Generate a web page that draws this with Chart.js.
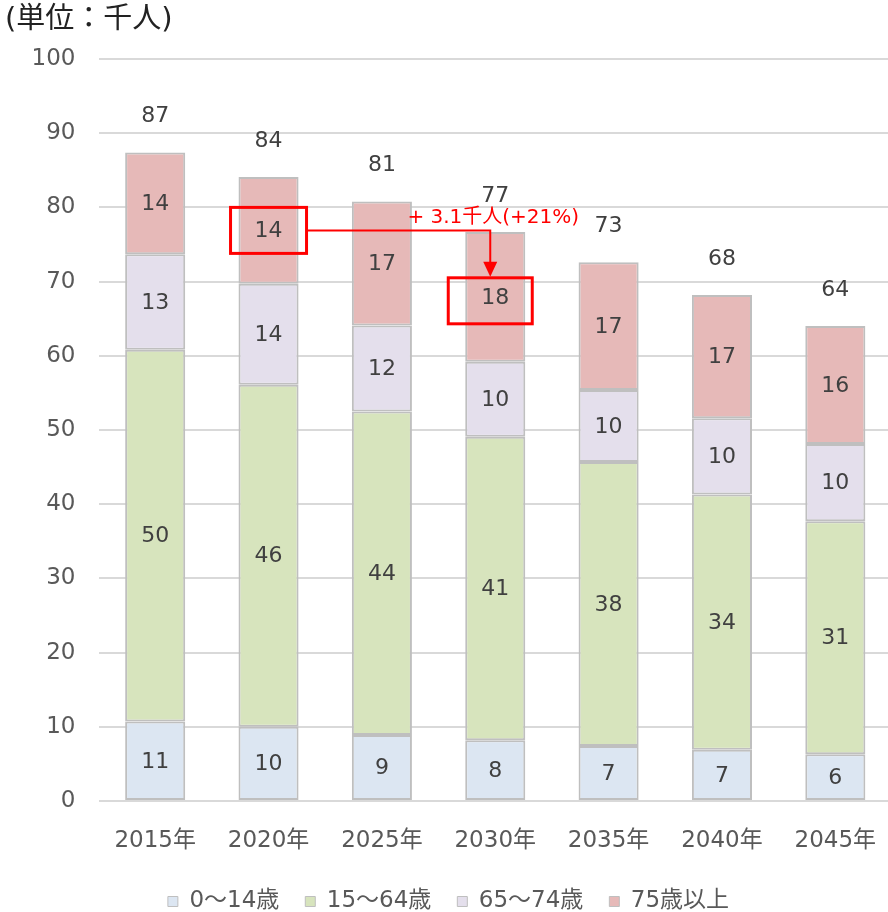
<!DOCTYPE html>
<html>
<head>
<meta charset="utf-8">
<script src="https://cdn.jsdelivr.net/npm/chart.js@4/dist/chart.umd.min.js"></script>
<style>
html,body{margin:0;padding:0;background:#fff;overflow:hidden;}
#wrap{width:892px;height:912px;position:relative;}
</style>
</head>
<body>
<div id="wrap"><canvas id="c"></canvas></div>
<script>
// ---- data ----
const years = ['2015年','2020年','2025年','2030年','2035年','2040年','2045年'];
const age0to14  = [10.7, 10.0, 8.9, 8.2, 7.4, 6.9, 6.3];
const age15to64 = [50.1, 46.1, 43.6, 40.9, 38.3, 34.4, 31.4];
const age65to74 = [12.9, 13.6, 11.6, 10.1, 9.7, 10.3, 10.4];
const age75plus = [13.7, 14.4, 16.7, 17.5, 17.2, 16.6, 15.9];
const seriesNames = ['0～14歳','15～64歳','65～74歳','75歳以上'];
const yMin = 0, yMax = 100, yStep = 10;
const unitLabel = '(単位：千人)';
const annotationText = '+ 3.1千人(+21%)';
const annotationFromIndex = 1;   // 2020
const annotationToIndex = 3;     // 2030

// ---- styles ----
const FONT = "'DejaVu Sans', 'Noto Sans CJK JP', sans-serif";
const fills = ['#DCE6F2', '#D7E4BD', '#E4DFEC', '#E6B9B8'];
const edge = '#BFBFBF';

const seriesData = [age0to14, age15to64, age65to74, age75plus];

const labelPlugin = {
  id: 'segLabels',
  afterDatasetsDraw(chart) {
    const ctx = chart.ctx;
    ctx.save();
    ctx.font = '22px ' + FONT;
    ctx.fillStyle = '#404040';
    ctx.textAlign = 'center';
    ctx.textBaseline = 'middle';
    chart.data.datasets.forEach((ds, di) => {
      const meta = chart.getDatasetMeta(di);
      meta.data.forEach((el, i) => {
        const v = ds.data[i];
        ctx.fillText(String(Math.round(v)), el.x, (el.y + el.base) / 2 + 1);
      });
    });
    // totals
    const topMeta = chart.getDatasetMeta(chart.data.datasets.length - 1);
    topMeta.data.forEach((el, i) => {
      let total = 0;
      chart.data.datasets.forEach(ds => total += ds.data[i]);
      ctx.fillText(String(Math.round(total)), el.x, el.y - 36);
    });

    // annotation
    const e1 = topMeta.data[annotationFromIndex];
    const e2 = topMeta.data[annotationToIndex];
    const c1y = (e1.y + e1.base) / 2;
    const c2y = (e2.y + e2.base) / 2 + 4;
    const x2 = e2.x - 5;
    ctx.strokeStyle = '#FF0000';
    ctx.fillStyle = '#FF0000';
    ctx.lineWidth = 3;
    const w1 = 76, h1 = 46, w2 = 84, h2 = 46;
    ctx.strokeRect(e1.x - w1 / 2, c1y - h1 / 2, w1, h1);
    ctx.strokeRect(x2 - w2 / 2, c2y - h2 / 2, w2, h2);
    const boxTop2 = c2y - h2 / 2;
    ctx.lineWidth = 2;
    ctx.beginPath();
    ctx.moveTo(e1.x + w1 / 2, c1y);
    ctx.lineTo(x2, c1y);
    ctx.lineTo(x2, boxTop2 - 14);
    ctx.stroke();
    ctx.beginPath();
    ctx.moveTo(x2 - 7, boxTop2 - 16);
    ctx.lineTo(x2 + 7, boxTop2 - 16);
    ctx.lineTo(x2, boxTop2 - 1);
    ctx.closePath();
    ctx.fill();
    ctx.font = '20px ' + FONT;
    ctx.textAlign = 'center';
    ctx.fillText(annotationText, e2.x - 2, c1y - 13);
    ctx.restore();
  }
};

new Chart(document.getElementById('c'), {
  type: 'bar',
  data: {
    labels: years,
    datasets: seriesData.map((d, i) => ({
      label: seriesNames[i],
      data: d,
      backgroundColor: fills[i],
      borderColor: edge,
      borderWidth: 2,
      borderSkipped: false,
      categoryPercentage: 1.0,
      barPercentage: 0.53
    }))
  },
  options: {
    responsive: true,
    maintainAspectRatio: false,
    animation: false,
    layout: { padding: { left: 5, right: 0, top: 0, bottom: -11 } },
    plugins: {
      title: {
        display: true,
        text: unitLabel,
        align: 'start',
        color: '#222222',
        font: { size: 29, family: FONT, weight: 'normal' },
        padding: { top: 3.5, bottom: 20.7 }
      },
      legend: {
        position: 'bottom',
        labels: {
          boxWidth: 10,
          boxHeight: 10,
          padding: 26,
          color: '#595959',
          font: { size: 23, family: FONT },
          generateLabels(chart) {
            return chart.data.datasets.map((ds, i) => ({
              text: ds.label,
              fillStyle: fills[i],
              strokeStyle: edge,
              lineWidth: 1,
              fontColor: '#595959',
              datasetIndex: i
            }));
          }
        }
      },
      tooltip: { enabled: false }
    },
    scales: {
      x: {
        stacked: true,
        grid: { display: false, drawTicks: false },
        border: { display: false },
        ticks: { color: '#595959', font: { size: 23, family: FONT }, padding: 26 },
        afterFit(s) { s.height = 63; s.paddingRight = 0; s.paddingLeft = 0; }
      },
      y: {
        stacked: true,
        min: yMin, max: yMax,
        grid: { color: '#D9D9D9', lineWidth: 2, drawTicks: false },
        border: { display: false },
        ticks: { stepSize: yStep, color: '#595959', font: { size: 23, family: FONT }, padding: 23 },
        afterFit(s) { s.width = 93.5; }
      }
    }
  },
  plugins: [labelPlugin]
});
</script>
</body>
</html>
